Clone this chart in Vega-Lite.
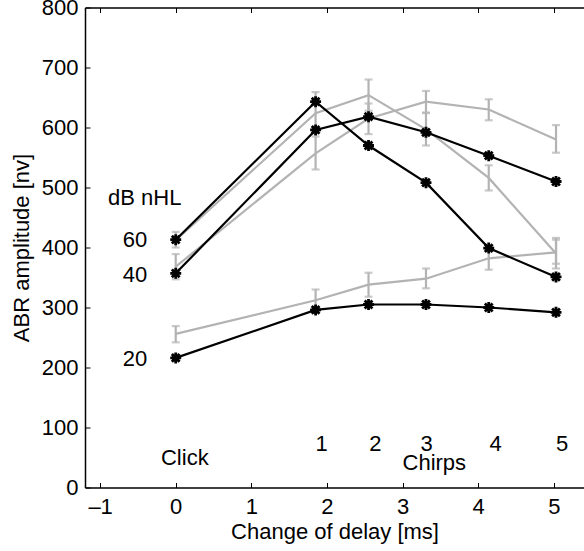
{
  "$schema": "https://vega.github.io/schema/vega-lite/v6.json",
  "width": 499,
  "height": 480,
  "autosize": {"type": "none"},
  "padding": {"left": 85, "top": 7.5, "right": 0, "bottom": 63.5},
  "background": "white",
  "config": {
    "view": {"stroke": null},
    "font": "Liberation Sans",
    "axis": {
      "grid": false,
      "domainColor": "black",
      "domainWidth": 1.5,
      "tickColor": "black",
      "tickWidth": 1,
      "tickSize": -5,
      "labelFontSize": 22,
      "labelColor": "black",
      "titleFontSize": 22,
      "titleFontWeight": "normal",
      "titleColor": "black"
    }
  },
  "datasets": {
    "black": [
      {"s": "60", "x": 0, "y": 413}, {"s": "60", "x": 1.85, "y": 643}, {"s": "60", "x": 2.55, "y": 570}, {"s": "60", "x": 3.31, "y": 508}, {"s": "60", "x": 4.14, "y": 399}, {"s": "60", "x": 5.03, "y": 351},
      {"s": "40", "x": 0, "y": 357}, {"s": "40", "x": 1.85, "y": 596}, {"s": "40", "x": 2.55, "y": 618}, {"s": "40", "x": 3.31, "y": 592}, {"s": "40", "x": 4.14, "y": 553}, {"s": "40", "x": 5.03, "y": 510},
      {"s": "20", "x": 0, "y": 216}, {"s": "20", "x": 1.85, "y": 296}, {"s": "20", "x": 2.55, "y": 305}, {"s": "20", "x": 3.31, "y": 305}, {"s": "20", "x": 4.14, "y": 300}, {"s": "20", "x": 5.03, "y": 292}
    ],
    "grey": [
      {"s": "60", "x": 0, "y": 412, "lo": 400, "hi": 426}, {"s": "60", "x": 1.85, "y": 624, "lo": 592, "hi": 659}, {"s": "60", "x": 2.55, "y": 654, "lo": 628, "hi": 680}, {"s": "60", "x": 3.31, "y": 597, "lo": 570, "hi": 624}, {"s": "60", "x": 4.14, "y": 516, "lo": 495, "hi": 537}, {"s": "60", "x": 5.03, "y": 390, "lo": 365, "hi": 416},
      {"s": "40", "x": 0, "y": 368, "lo": 347, "hi": 389}, {"s": "40", "x": 1.85, "y": 557, "lo": 530, "hi": 585}, {"s": "40", "x": 2.55, "y": 615, "lo": 589, "hi": 640}, {"s": "40", "x": 3.31, "y": 643, "lo": 625, "hi": 661}, {"s": "40", "x": 4.14, "y": 630, "lo": 612, "hi": 647}, {"s": "40", "x": 5.03, "y": 580, "lo": 558, "hi": 604},
      {"s": "20", "x": 0, "y": 256, "lo": 242, "hi": 269}, {"s": "20", "x": 1.85, "y": 312, "lo": 294, "hi": 330}, {"s": "20", "x": 2.55, "y": 338, "lo": 318, "hi": 358}, {"s": "20", "x": 3.31, "y": 348, "lo": 332, "hi": 365}, {"s": "20", "x": 4.14, "y": 382, "lo": 363, "hi": 398}, {"s": "20", "x": 5.03, "y": 392, "lo": 373, "hi": 413}
    ],
    "labels": [
      {"x": -0.41, "y": 482, "t": "dB nHL"},
      {"x": -0.54, "y": 412, "t": "60"},
      {"x": -0.54, "y": 354, "t": "40"},
      {"x": -0.54, "y": 214, "t": "20"},
      {"x": 0.12, "y": 49, "t": "Click"},
      {"x": 1.93, "y": 72, "t": "1"},
      {"x": 2.64, "y": 72, "t": "2"},
      {"x": 3.32, "y": 72, "t": "3"},
      {"x": 4.23, "y": 72, "t": "4"},
      {"x": 5.11, "y": 72, "t": "5"},
      {"x": 3.42, "y": 40.5, "t": "Chirps"}
    ]
  },
  "layer": [
    {
      "data": {"name": "grey"},
      "mark": {"type": "rule", "color": "#b3b3b3", "strokeWidth": 2.2},
      "encoding": {
        "x": {"field": "x", "type": "quantitative", "scale": {"domain": [-1.2, 5.4], "nice": false, "zero": false},
              "axis": {"orient": "bottom", "values": [-1, 0, 1, 2, 3, 4, 5], "title": "Change of delay [ms]", "labelPadding": 14, "titlePadding": 4, "labelExpr": "replace(datum.label, '−', '–')"}},
        "y": {"field": "lo", "type": "quantitative", "scale": {"domain": [0, 800], "nice": false},
              "axis": {"values": [0, 100, 200, 300, 400, 500, 600, 700, 800], "title": "ABR amplitude [nv]", "labelPadding": 12, "titlePadding": 8}},
        "y2": {"field": "hi"}
      }
    },
    {
      "data": {"name": "grey"},
      "mark": {"type": "tick", "orient": "horizontal", "color": "#b3b3b3", "size": 8, "thickness": 2.2},
      "encoding": {
        "x": {"field": "x", "type": "quantitative", "axis": null},
        "y": {"field": "lo", "type": "quantitative"}
      }
    },
    {
      "data": {"name": "grey"},
      "mark": {"type": "tick", "orient": "horizontal", "color": "#b3b3b3", "size": 8, "thickness": 2.2},
      "encoding": {
        "x": {"field": "x", "type": "quantitative", "axis": null},
        "y": {"field": "hi", "type": "quantitative"}
      }
    },
    {
      "data": {"name": "grey"},
      "mark": {"type": "line", "color": "#b3b3b3", "strokeWidth": 2.2},
      "encoding": {
        "x": {"field": "x", "type": "quantitative", "axis": null},
        "y": {"field": "y", "type": "quantitative"},
        "detail": {"field": "s"}
      }
    },
    {
      "data": {"name": "black"},
      "mark": {"type": "line", "color": "black", "strokeWidth": 2.2},
      "encoding": {
        "x": {"field": "x", "type": "quantitative", "axis": null},
        "y": {"field": "y", "type": "quantitative"},
        "detail": {"field": "s"}
      }
    },
    {
      "data": {"name": "black"},
      "mark": {"type": "point", "filled": false, "stroke": "black", "strokeWidth": 2.8, "opacity": 1, "size": 120,
               "shape": "M-1,0L1,0M0,-1L0,1M-0.71,-0.71L0.71,0.71M-0.71,0.71L0.71,-0.71"},
      "encoding": {
        "x": {"field": "x", "type": "quantitative", "axis": null},
        "y": {"field": "y", "type": "quantitative"}
      }
    },
    {
      "data": {"name": "labels"},
      "mark": {"type": "text", "fontSize": 22, "color": "black", "align": "center", "baseline": "middle"},
      "encoding": {
        "x": {"field": "x", "type": "quantitative", "axis": {"orient": "top", "values": [-1, 0, 1, 2, 3, 4, 5], "labels": false, "title": null}},
        "y": {"field": "y", "type": "quantitative"},
        "text": {"field": "t"}
      }
    }
  ],
  "resolve": {"axis": {"x": "independent"}}
}
